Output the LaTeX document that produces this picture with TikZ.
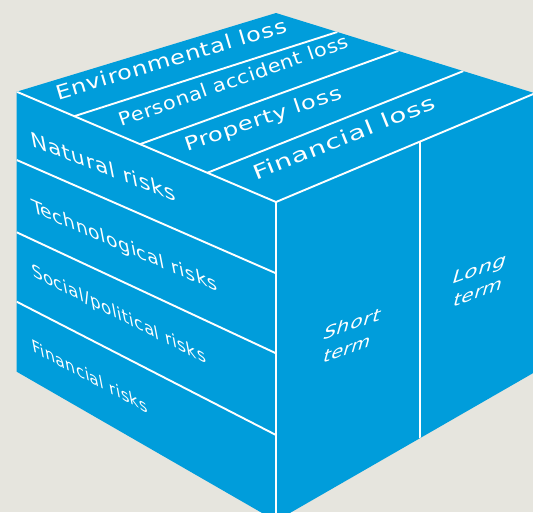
\documentclass[tikz,border=0pt]{standalone}
\usepackage{fontspec}
\setmainfont{DejaVu Sans}
\newfontfamily\cubefont[LetterSpace=3]{DejaVu Sans}
\usepackage{graphicx}
\definecolor{cubeblue}{HTML}{009DDB}
\definecolor{bggray}{HTML}{E6E5DE}
\newcommand\facelabel[9]{%
  \begin{scope}[shift={#2}, cm={#3,#4,#5,#6,(0,0)}]
    \node[labeltext] (#1) at (0,0) {\resizebox{#7pt}{#8pt}{\cubefont\vphantom{Elk}#9}};
  \end{scope}}
\begin{document}
\begin{tikzpicture}[x=1pt,y=-1pt,
  cubeline/.style={draw=white,line width=1.9pt},
  labeltext/.style={anchor=base west,inner sep=0pt,outer sep=0pt,text=white,transform shape}]
\useasboundingbox (0,0) rectangle (533,512);
\clip (0,0) rectangle (533,512);
\fill[bggray] (0,0) rectangle (533,512);
% cube corners
\coordinate (A) at (16.7,91.7);
\coordinate (B) at (276,13);
\coordinate (C) at (535,93.3);
\coordinate (G) at (535,372);
\coordinate (F) at (276,521);
\coordinate (E) at (16.7,371.7);
\coordinate (D) at (276,202);
% division points
\coordinate (t1a) at (74,116.3);   \coordinate (t1b) at (337.3,32);
\coordinate (t2a) at (140,144.2);  \coordinate (t2b) at (398.3,50.9);
\coordinate (t3a) at (207.3,172.8);\coordinate (t3b) at (463.3,71.1);
\coordinate (l1a) at (16.7,160);   \coordinate (l1b) at (276,273.3);
\coordinate (l2a) at (16.7,232.3); \coordinate (l2b) at (276,353.3);
\coordinate (l3a) at (16.7,301.7); \coordinate (l3b) at (276,435);
\coordinate (ma) at (420,141.6);   \coordinate (mb) at (420,438.2);
\fill[cubeblue] (A) -- (B) -- (C) -- (G) -- (F) -- (E) -- cycle;
\begin{scope}
  \clip (A) -- (B) -- (C) -- (G) -- (F) -- (E) -- cycle;
  \draw[cubeline] (A) -- (D) -- (C);
  \draw[cubeline] (D) -- (F);
  \draw[cubeline] (t1a) -- (t1b);
  \draw[cubeline] (t2a) -- (t2b);
  \draw[cubeline] (t3a) -- (t3b);
  \draw[cubeline] (l1a) -- (l1b);
  \draw[cubeline] (l2a) -- (l2b);
  \draw[cubeline] (l3a) -- (l3b);
  \draw[cubeline] (ma) -- (mb);
\end{scope}
% top face labels
\facelabel{env}{(58.3,100)}{0.959}{0.284}{-0.284}{0.959}{239.5}{15}{Environmental loss}
\facelabel{pers}{(121.7,126.7)}{0.9438}{0.3307}{-0.3307}{0.9438}{241.9}{14}{Personal accident loss}
\facelabel{prop}{(187,151)}{0.9478}{0.3196}{-0.3196}{0.9478}{164.9}{14.5}{Property loss}
\facelabel{finloss}{(256,180.5)}{0.9281}{0.3724}{-0.3724}{0.9281}{194.7}{15}{Financial loss}
% left face labels
\facelabel{nat}{(33,146)}{0.9316}{-0.3633}{-0.19}{0.982}{154.6}{16}{Natural risks}
\facelabel{tech}{(33,212)}{0.9187}{-0.395}{-0.19}{0.982}{201.7}{14.5}{Technological risks}
\facelabel{soc}{(33.3,276.7)}{0.8944}{-0.4472}{-0.19}{0.982}{193.9}{14}{Social/political risks}
\facelabel{finrisk}{(33.3,351.7)}{0.8814}{-0.4724}{-0.19}{0.982}{130.5}{13.5}{Financial risks}
% right face labels
\facelabel{shorta}{(322.5,340.5)}{0.9409}{0.3387}{0.27}{0.963}{60}{14.5}{Short}
\facelabel{shortb}{(322,363.5)}{0.9409}{0.3387}{0.27}{0.963}{50}{14.5}{term}
\facelabel{longa}{(451.5,284.5)}{0.9409}{0.3387}{0.27}{0.963}{57}{14.5}{Long}
\facelabel{longb}{(452,307.5)}{0.9409}{0.3387}{0.27}{0.963}{52}{14.5}{term}
\end{tikzpicture}
\end{document}
